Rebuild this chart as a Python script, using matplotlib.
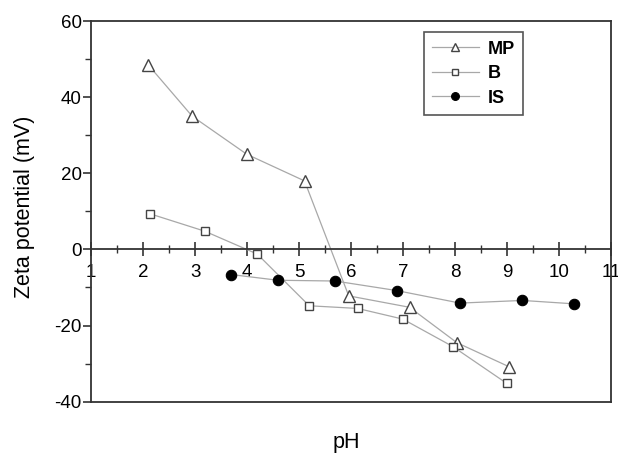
import matplotlib
matplotlib.use("Agg")
import matplotlib.pyplot as plt
from matplotlib.ticker import MultipleLocator

plt.rcParams['font.family'] = ['Liberation Sans', 'DejaVu Sans']
plt.rcParams['axes.unicode_minus'] = False

# Data
mp_ph = [2.10, 2.94, 3.99, 5.10, 5.95, 7.12, 8.03, 9.03]
mp_zeta = [48.4, 35.0, 25.0, 18.0, -12.2, -15.2, -24.5, -30.8]

b_ph = [2.12, 3.18, 4.19, 5.19, 6.12, 6.99, 7.95, 8.99]
b_zeta = [9.4, 4.8, -1.2, -14.8, -15.5, -18.3, -25.5, -35.2]

is_ph = [3.69, 4.59, 5.69, 6.87, 8.09, 9.29, 10.29]
is_zeta = [-6.6, -8.1, -8.3, -10.8, -14.1, -13.4, -14.3]

x_ticks = [1, 2, 3, 4, 5, 6, 7, 8, 9, 10, 11]
y_ticks = [-40, -20, 0, 20, 40, 60]

fig = plt.figure(figsize=(6.18, 4.54), dpi=100)
ax = fig.add_axes([0.1477, 0.1152, 0.8416, 0.8385])

line_c = '#a8a8a8'
edge_c = '#444444'
ax.plot(mp_ph, mp_zeta, color=line_c, lw=0.9, marker='^', ms=8, mfc='white',
        mec=edge_c, mew=1.0, label='MP')
ax.plot(b_ph, b_zeta, color=line_c, lw=0.9, marker='s', ms=6, mfc='white',
        mec=edge_c, mew=1.0, label='B')
ax.plot(is_ph, is_zeta, color=line_c, lw=0.9, marker='o', ms=7.5, mfc='black',
        mec='black', mew=0.8, label='IS')

ax.set_xlim(1, 11)
ax.set_ylim(-40, 60)
ax.set_xticks(x_ticks)
ax.set_yticks(y_ticks)
ax.xaxis.set_minor_locator(MultipleLocator(0.5))
ax.yaxis.set_minor_locator(MultipleLocator(10))

spine_c = '#333333'
for s in ['left', 'right', 'top', 'bottom']:
    ax.spines[s].set_color(spine_c)
    ax.spines[s].set_linewidth(1.3)
ax.spines['bottom'].set_position(('data', 0))
# bottom frame line
ax.plot([0, 1], [0, 0], transform=ax.transAxes, color=spine_c, lw=1.3,
        clip_on=False, solid_capstyle='projecting')

ax.tick_params(axis='x', which='major', direction='inout', length=10.5, width=1.2,
               color=spine_c, labelsize=13.5, pad=5)
ax.tick_params(axis='x', which='minor', direction='inout', length=6, width=1.0,
               color=spine_c)
ax.tick_params(axis='y', which='major', direction='out', length=5.5, width=1.2,
               color=spine_c, labelsize=13.5, pad=1.5)
ax.tick_params(axis='y', which='minor', direction='out', length=4, width=1.0,
               color=spine_c)

ax.set_xlabel('pH', fontsize=15.5, va='center')
ax.xaxis.set_label_coords(0.491, -0.107)
ax.set_ylabel('Zeta potential (mV)', fontsize=15.5, va='center')
ax.yaxis.set_label_coords(-0.129, 0.513)

leg = ax.legend(loc='upper left', bbox_to_anchor=(0.639, 0.970), borderaxespad=0,
                fancybox=False, edgecolor='#555555', framealpha=1,
                prop={'weight': 'bold', 'size': 13}, markerscale=0.75,
                handlelength=2.6, labelspacing=0.42, borderpad=0.45,
                handletextpad=0.5)
leg.get_frame().set_linewidth(1.2)

fig.savefig('out.png', dpi=100)
